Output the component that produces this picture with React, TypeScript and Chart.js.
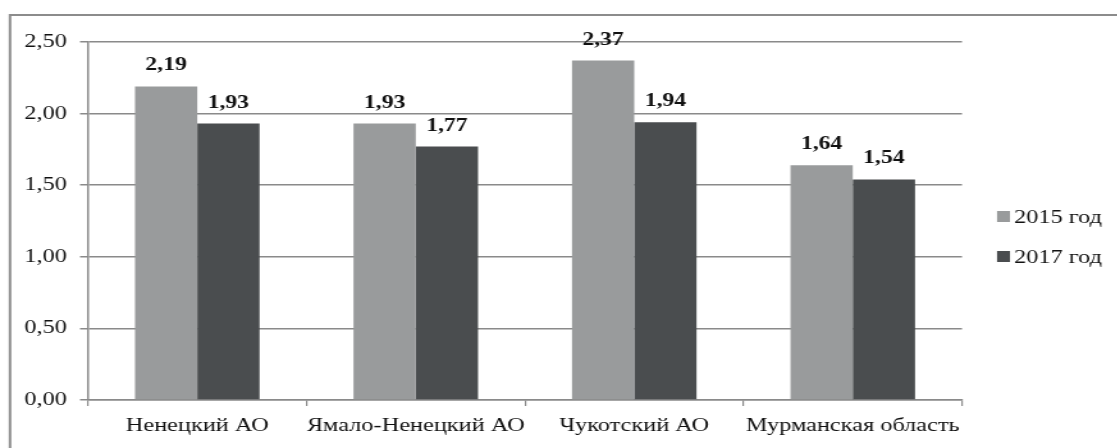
import React, { useEffect, useRef } from "react";
import { Chart, registerables } from "chart.js";

Chart.register(...registerables);

const categories = ["Ненецкий АО", "Ямало-Ненецкий АО", "Чукотский АО", "Мурманская область"];
const series2015 = [2.19, 1.93, 2.37, 1.64];
const series2017 = [1.93, 1.77, 1.94, 1.54];
const seriesNames = ["2015 год", "2017 год"];
const colors = ["#999b9c", "#4a4d4f"];

const FONT = "'Liberation Serif', 'Times New Roman', serif";
const fmt = (v: number) => v.toFixed(2).replace(".", ",");

// the reference picture is horizontally stretched; draw narrow and scale in X
const SX = 1.28;
const W = Math.round(1118 / SX);
const H = 448;
const X = (px: number) => px / SX;

const extrasPlugin = {
  id: "extras",
  afterDatasetsDraw(chart: any) {
    const ctx = chart.ctx;
    ctx.save();
    ctx.font = `bold 18.5px ${FONT}`;
    ctx.fillStyle = "#111";
    ctx.textAlign = "center";
    ctx.textBaseline = "alphabetic";
    chart.data.datasets.forEach((ds: any, i: number) => {
      const meta = chart.getDatasetMeta(i);
      meta.data.forEach((bar: any, j: number) => {
        ctx.fillText(fmt(ds.data[j]), bar.x, bar.y - 16);
      });
    });
    // legend
    ctx.font = `19px ${FONT}`;
    ctx.textAlign = "left";
    ctx.textBaseline = "middle";
    const ys = [217, 257];
    seriesNames.forEach((n, i) => {
      ctx.fillStyle = colors[i];
      ctx.fillRect(X(997), ys[i] - 6, X(13), 11);
      ctx.fillStyle = "#111";
      ctx.fillText(n, X(1014), ys[i] + 1);
    });
    // outer frame
    ctx.strokeStyle = "#8c8c8c";
    ctx.lineWidth = 2;
    ctx.beginPath();
    ctx.moveTo(X(10), H);
    ctx.lineTo(X(10), 15);
    ctx.lineTo(W, 15);
    ctx.stroke();
    ctx.restore();
  },
};

export default function App() {
  const ref = useRef<HTMLCanvasElement>(null);
  useEffect(() => {
    if (!ref.current) return;
    const chart = new Chart(ref.current, {
      type: "bar",
      data: {
        labels: categories,
        datasets: [
          { label: seriesNames[0], data: series2015, backgroundColor: colors[0], barPercentage: 1, categoryPercentage: 0.57 },
          { label: seriesNames[1], data: series2017, backgroundColor: colors[1], barPercentage: 1, categoryPercentage: 0.57 },
        ],
      },
      options: {
        responsive: false,
        animation: false,
        devicePixelRatio: 1,
        layout: { padding: { left: 0, right: W - X(962), top: 42, bottom: 0 } },
        plugins: { legend: { display: false }, tooltip: { enabled: false } },
        scales: {
          y: {
            min: 0,
            max: 2.5,
            afterFit: (s: any) => { s.width = X(88); },
            ticks: {
              stepSize: 0.5,
              callback: (v: any) => fmt(Number(v)),
              color: "#111",
              font: { family: FONT, size: 19 },
              padding: X(13),
            },
            grid: { color: "#8a8a8a", lineWidth: 1.5, tickLength: X(8) },
            border: { color: "#8a8a8a", width: 1.5 },
          },
          x: {
            afterFit: (s: any) => { s.height = 48; },
            ticks: { color: "#111", font: { family: FONT, size: 19 }, padding: 9, maxRotation: 0, minRotation: 0, autoSkip: false },
            grid: { drawOnChartArea: false, drawTicks: true, tickLength: 6, color: "#8a8a8a", lineWidth: 1.2 },
            border: { color: "#8a8a8a", width: 1.5 },
          },
        },
      },
      plugins: [extrasPlugin],
    });
    return () => chart.destroy();
  }, []);
  return (
    <div style={{ position: "fixed", left: 0, top: 0, width: 1118, height: H, background: "#fff", overflow: "hidden" }}>
      <div style={{ width: W, height: H, transform: `scaleX(${SX})`, transformOrigin: "0 0" }}>
        <canvas ref={ref} width={W} height={H} style={{ display: "block", width: W, height: H }} />
      </div>
    </div>
  );
}
